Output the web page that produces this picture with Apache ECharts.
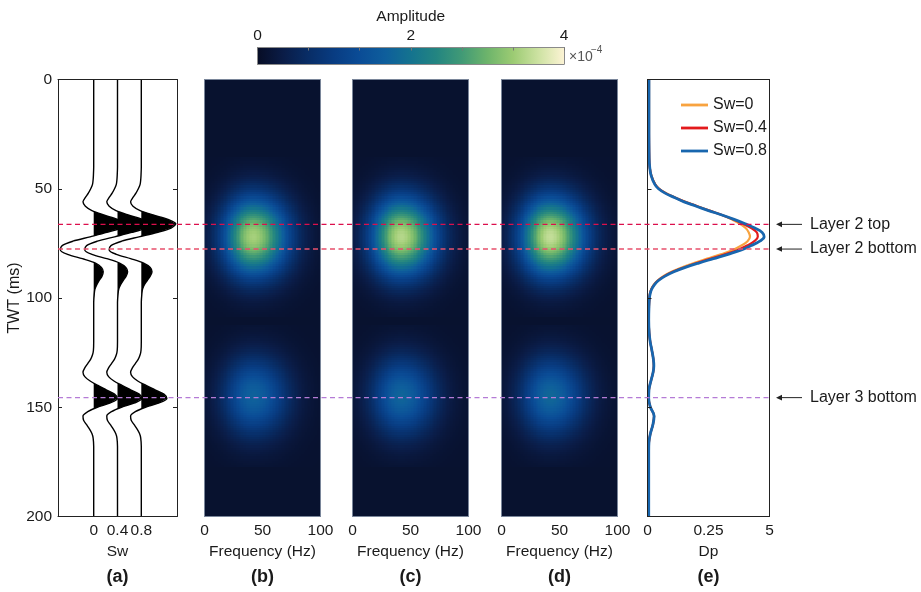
<!DOCTYPE html>
<html><head><meta charset="utf-8">
<script src="https://cdn.jsdelivr.net/npm/echarts@6/dist/echarts.min.js"></script>
<style>html,body{margin:0;padding:0;background:#fff}#c{width:921px;height:592px}</style>
</head><body><div id="c"></div>
<script>
const FONT = "'Liberation Sans', Arial, Helvetica, sans-serif";

// ---------- DATA ----------
// (a) synthetic seismic traces
const swValues = [0, 0.4, 0.8];
const swTickLabels = ['0', '0.4', '0.8'];
const wTimes = [0,40,44,46,48,50,52,54,56,58,60,62,64,66,68,70,72,74,76,78,80,82,84,86,88,90,92,94,96,98,102,110,120,124,126,128,130,132,134,136,138,140,142,144,146,148,150,152,154,156,158,160,162,164,168,176,200];
const traceSw0 = [0,0,-0.005,-0.01,-0.02,
 -0.05,-0.09,-0.14,-0.18,-0.14,-0.03,0.17,0.4,0.52,0.45,0.22,-0.06,-0.35,-0.53,-0.56,-0.44,-0.19,0.03,0.13,0.16,0.14,0.09,0.05,0.02,0.01,
 0,0,0,-0.005,
 -0.02,-0.05,-0.1,-0.15,-0.18,-0.15,-0.06,0.07,0.21,0.35,0.4,0.28,0.06,-0.1,-0.18,-0.17,-0.12,-0.07,-0.03,-0.01,
 0,0,0];
const traceSw04 = [0,0,-0.005,-0.01,-0.02,
 -0.05,-0.09,-0.14,-0.18,-0.14,-0.025,0.18,0.42,0.55,0.47,0.24,-0.05,-0.34,-0.52,-0.55,-0.43,-0.18,0.035,0.14,0.17,0.145,0.095,0.05,0.02,0.01,
 0,0,0,-0.005,
 -0.02,-0.05,-0.1,-0.15,-0.18,-0.15,-0.06,0.075,0.22,0.365,0.41,0.29,0.065,-0.1,-0.18,-0.17,-0.12,-0.07,-0.03,-0.01,
 0,0,0];
const traceSw08 = [0,0,-0.005,-0.01,-0.02,
 -0.05,-0.09,-0.14,-0.18,-0.14,-0.02,0.2,0.45,0.58,0.5,0.26,-0.04,-0.33,-0.51,-0.54,-0.42,-0.18,0.04,0.15,0.18,0.15,0.1,0.05,0.02,0.01,
 0,0,0,-0.005,
 -0.02,-0.05,-0.1,-0.15,-0.18,-0.15,-0.06,0.08,0.23,0.38,0.43,0.3,0.07,-0.1,-0.18,-0.17,-0.12,-0.07,-0.03,-0.01,
 0,0,0];
const wiggleTraces = [traceSw0, traceSw04, traceSw08];

// (b)-(d) time-frequency amplitude (x1e-4)
const hmFreqs = [
 0,1.25,2.5,3.75,5,6.25,7.5,8.75,
 10,11.25,12.5,13.75,15,16.25,17.5,18.75,
 20,21.25,22.5,23.75,25,26.25,27.5,28.75,
 30,31.25,32.5,33.75,35,36.25,37.5,38.75,
 40,41.25,42.5,43.75,45,46.25,47.5,48.75,
 50,51.25,52.5,53.75,55,56.25,57.5,58.75,
 60,61.25,62.5,63.75,65,66.25,67.5,68.75,
 70,71.25,72.5,73.75,75,76.25,77.5,78.75,
 80,81.25,82.5,83.75,85,86.25,87.5,88.75,
 90,91.25,92.5,93.75,95,96.25,97.5,98.75,
 100];
const hmFreqProfile = [
 0.0657,0.0771,0.09,0.1046,0.1209,0.1391,0.1593,0.1816,
 0.2059,0.2324,0.2611,0.2918,0.3247,0.3594,0.396,0.4342,
 0.4738,0.5146,0.5561,0.5981,0.6402,0.682,0.7229,0.7627,
 0.8007,0.8367,0.87,0.9003,0.9272,0.9503,0.9692,0.9838,
 0.9938,0.9991,0.9997,0.9965,0.9899,0.9797,0.9663,0.9496,
 0.93,0.9076,0.8825,0.8551,0.8256,0.7944,0.7616,0.7275,
 0.6926,0.657,0.621,0.5849,0.549,0.5134,0.4784,0.4443,
 0.4111,0.3791,0.3483,0.3189,0.2909,0.2645,0.2396,0.2163,
 0.1945,0.1743,0.1557,0.1386,0.1229,0.1086,0.0956,0.0839,
 0.0734,0.0639,0.0555,0.048,0.0414,0.0356,0.0304,0.026,
 0.0221];
const hmTopStart = 36;   // ms, 1 ms samples
const hmTopProfile = [
 0.0159,0.0199,0.0249,0.0307,0.0378,0.0463,0.0561,0.0677,0.0813,0.097,
 0.1151,0.1353,0.1585,0.1844,0.2129,0.244,0.278,0.315,0.3546,0.3966,
 0.4411,0.4868,0.5344,0.5824,0.6307,0.6788,0.7261,0.7717,0.815,0.8551,
 0.8913,0.9231,0.9501,0.9716,0.9873,0.9968,1.0,
 0.9968,0.9873,0.9716,0.9501,0.9231,0.8913,0.8551,0.815,0.7717,0.7261,
 0.6788,0.6307,0.5824,0.5344,0.4868,0.4411,0.3966,0.3546,0.315,0.278,
 0.244,0.2129,0.1844,0.1585,0.1353,0.1151,0.097,0.0813,0.0677,0.0561,
 0.0463,0.0378,0.0307,0.0249,0.0199,0.0159];
const hmBotStart = 113;  // ms, 1 ms samples
const hmBotProfile = [
 0.0378,0.0463,0.0561,0.0677,0.0813,0.097,
 0.1151,0.1353,0.1585,0.1844,0.2129,0.244,0.278,0.315,0.3546,0.3966,
 0.4411,0.4868,0.5344,0.5824,0.6307,0.6788,0.7261,0.7717,0.815,0.8551,
 0.8913,0.9231,0.9501,0.9716,0.9873,0.9968,1.0,
 0.9968,0.9873,0.9716,0.9501,0.9231,0.8913,0.8551,0.815,0.7717,0.7261,
 0.6788,0.6307,0.5824,0.5344,0.4868,0.4411,0.3966,0.3546,0.315,0.278,
 0.244,0.2129,0.1844,0.1585,0.1353,0.1151,0.097,0.0813,0.0677,0.0561,
 0.0463,0.0378];
const hmTopPeak = [3.3, 3.4, 3.5];   // panels b, c, d
const hmBotPeak = [1.62, 1.66, 1.7];
const hmBackground = 0.1;
const hmTimeStep = 1;
const hmFreqStep = 1.25;

// (e) Dp curves
const dpNames = ['Sw=0', 'Sw=0.4', 'Sw=0.8'];
const dpTickLabels = ['0', '0.25', '5'];
const eTimes = [0,20,36,40,44,48,50,52,54,56,58,60,62,64,66,68,70,72,74,76,78,80,82,84,86,88,90,92,94,96,98,100,104,110,116,120,124,128,131,134,138,142,146,150,154,158,162,166,170,180,200];
const dpTail = [0.06,0.05,0.07,0.11,0.18,0.24,0.26,0.23,0.14,0.06,0.05,0.12,0.27,0.22,0.12,0.06,0.05,0.05,0.05];
const dpSw0 = [0.06,0.06,0.07,0.09,0.16,0.32,
 0.48,0.76,1.14,1.56,2.06,2.55,3.05,3.45,3.78,4.02,4.15,4.2,4.1,3.85,3.5,3.0,2.45,1.9,1.4,0.98,0.65,0.41,0.25,0.15,0.1,0.08].concat(dpTail);
const dpSw04 = [0.06,0.06,0.07,0.09,0.155,0.31,
 0.47,0.74,1.12,1.53,2.03,2.53,3.05,3.5,3.9,4.25,4.48,4.52,4.38,4.08,3.7,3.17,2.6,2.02,1.5,1.04,0.69,0.43,0.27,0.16,0.1,0.08].concat(dpTail);
const dpSw08 = [0.06,0.06,0.07,0.09,0.15,0.3,
 0.45,0.72,1.1,1.5,2.0,2.5,3.05,3.55,4.0,4.4,4.7,4.78,4.6,4.25,3.85,3.3,2.7,2.1,1.55,1.08,0.72,0.45,0.28,0.17,0.11,0.08].concat(dpTail);
const dpSeries = [dpSw0, dpSw04, dpSw08];
const dpColors = ['#f8a33f', '#e31a1c', '#1866ae'];
const dpWidths = [2.2, 2.2, 2.8];

// layer markers
const layerTimes = [66.3, 77.6, 145.6];
const layerNames = ['Layer 2 top', 'Layer 2 bottom', 'Layer 3 bottom'];
const layerColors = ['#dc0f4c', '#e8506c', '#b57bd6'];

// colour map (value 0 .. 4, x1e-4)
const cmapColors = ['#070d25','#0a1c47','#082d66','#083c82','#0a4c96','#0e5e9c','#14738f','#238581','#419a76','#6db46b','#9ccb73','#cde2a2','#fcf3d4'];
const cbTicks = [0, 2, 4];

// ---------- LAYOUT ----------
const GT = 79.5, GH = 437;
const panels = [
  {left: 58, width: 119},
  {left: 204.5, width: 116},
  {left: 352.5, width: 116},
  {left: 501.5, width: 116},
  {left: 647.5, width: 122}
];
const overlayRight = 769.5;
const cbBox = {left: 257.5, top: 47.5, width: 306.5, height: 16.5};
const panelLetters = ['(a)', '(b)', '(c)', '(d)', '(e)'];

const labelStyle = {fontFamily: FONT, fontSize: 15.5, color: '#1a1a1a'};
const BLACK = '#222';
const HMB = '#7a869a';

function lineAx(color) { return {show: true, onZero: false, lineStyle: {color: color, width: 1}}; }

// ---------- BUILD ----------
function profileAt(start, prof, t) {
  const i = Math.round((t - start) / hmTimeStep);
  return (i >= 0 && i < prof.length) ? prof[i] : 0;
}
const hmTimeRows = [];
for (let t = 0; t <= 200; t += hmTimeStep) hmTimeRows.push(t);
function buildHeat(k) {
  const out = [];
  hmTimeRows.forEach(t => {
    const pt = profileAt(hmTopStart, hmTopProfile, t);
    const pb = profileAt(hmBotStart, hmBotProfile, t);
    hmFreqs.forEach((f, fi) => {
      const v = hmBackground + hmFreqProfile[fi] * (hmTopPeak[k] * pt + hmBotPeak[k] * pb);
      out.push([f, t, v]);
    });
  });
  return out;
}

function heatRender(params, api) {
  const f = api.value(0), t = api.value(1);
  const p0 = api.coord([f - hmFreqStep / 2, t - hmTimeStep / 2]);
  const p1 = api.coord([f + hmFreqStep / 2, t + hmTimeStep / 2]);
  const cs = params.coordSys;
  const x0 = Math.round(Math.max(Math.min(p0[0], p1[0]), cs.x));
  const x1 = Math.round(Math.min(Math.max(p0[0], p1[0]), cs.x + cs.width));
  const y0 = Math.round(Math.max(Math.min(p0[1], p1[1]), cs.y));
  const y1 = Math.round(Math.min(Math.max(p0[1], p1[1]), cs.y + cs.height));
  if (x1 <= x0 || y1 <= y0) return null;
  return {type: 'rect', shape: {x: x0, y: y0, width: x1 - x0, height: y1 - y0}, style: {fill: api.visual('color')}, silent: true};
}

function fillRender(params, api) {
  const k = params.dataIndex;
  const off = swValues[k], amps = wiggleTraces[k];
  const polys = [];
  let cur = null;
  for (let i = 0; i < wTimes.length; i++) {
    const a = amps[i], t = wTimes[i];
    if (a > 0) {
      if (!cur) {
        let tc = t;
        if (i > 0) { const a0 = amps[i - 1], t0 = wTimes[i - 1]; tc = t0 + (t - t0) * (0 - a0) / (a - a0); }
        cur = [api.coord([off, tc])];
      }
      cur.push(api.coord([off + a, t]));
    } else if (cur) {
      const a0 = amps[i - 1], t0 = wTimes[i - 1];
      const tc = t0 + (t - t0) * a0 / (a0 - a);
      cur.push(api.coord([off, tc]));
      polys.push(cur); cur = null;
    }
  }
  return {type: 'group', children: polys.map(p => ({type: 'polygon', shape: {points: p}, style: {fill: '#000'}, silent: true}))};
}

function layerRender(params, api) {
  const t = api.value(1), i = api.value(2);
  const p0 = api.coord([0, t]), p1 = api.coord([1, t]);
  return {type: 'line', shape: {x1: p0[0], y1: p0[1], x2: p1[0], y2: p1[1]},
    style: {stroke: layerColors[i], lineWidth: 1.4, lineDash: [5, 3.5]}, silent: true};
}

function cbRender(params, api) {
  const p0 = api.coord([cbTicks[0], 1]);
  const p1 = api.coord([cbTicks[cbTicks.length - 1], 0]);
  const n = cmapColors.length;
  return {type: 'rect', shape: {x: p0[0], y: p0[1], width: p1[0] - p0[0], height: p1[1] - p0[1]},
    style: {fill: new echarts.graphic.LinearGradient(0, 0, 1, 0, cmapColors.map((c, i) => ({offset: i / (n - 1), color: c})))}, silent: true};
}

// grids
const grid = panels.map(p => ({left: p.left, top: GT, width: p.width, height: GH}));
grid.push({left: panels[0].left, top: GT, width: overlayRight - panels[0].left, height: GH});
grid.push(cbBox);

const yBase = {type: 'value', min: 0, max: 200, interval: 50, inverse: true, splitLine: {show: false}};
const xAxis = [];
const yAxis = [];
// panel a
xAxis.push({gridIndex: 0, type: 'value', min: -0.6, max: 1.4, interval: 0.2, position: 'bottom', z: 5,
  axisLine: lineAx(BLACK), axisTick: {show: false}, splitLine: {show: false},
  axisLabel: Object.assign({}, labelStyle, {margin: 6, hideOverlap: false, showMinLabel: true, showMaxLabel: true,
    formatter: v => { const i = swValues.findIndex(s => Math.abs(s - v) < 1e-6); return i >= 0 ? swTickLabels[i] : ''; }}),
  name: 'Sw', nameLocation: 'middle', nameGap: 27, nameTextStyle: labelStyle});
xAxis.push({gridIndex: 0, type: 'value', min: -0.6, max: 1.4, position: 'top', z: 5, axisLine: lineAx(BLACK), axisTick: {show: false}, axisLabel: {show: false}, splitLine: {show: false}});
yAxis.push(Object.assign({}, yBase, {gridIndex: 0, position: 'left', z: 5, axisLine: lineAx(BLACK),
  axisTick: {show: true, inside: true, length: 4, lineStyle: {color: BLACK}},
  axisLabel: Object.assign({}, labelStyle, {margin: 6}),
  name: 'TWT (ms)', nameLocation: 'middle', nameGap: 28, nameTextStyle: Object.assign({}, labelStyle, {fontSize: 16})}));
yAxis.push(Object.assign({}, yBase, {gridIndex: 0, position: 'right', z: 5, axisLine: lineAx(BLACK),
  axisTick: {show: true, inside: true, length: 4, lineStyle: {color: BLACK}}, axisLabel: {show: false}}));
// panels b-d
for (let g = 1; g <= 3; g++) {
  xAxis.push({gridIndex: g, type: 'value', min: 0, max: 100, interval: 50, position: 'bottom', z: 5,
    axisLine: lineAx(HMB), axisTick: {show: false}, splitLine: {show: false},
    axisLabel: Object.assign({}, labelStyle, {margin: 6}),
    name: 'Frequency (Hz)', nameLocation: 'middle', nameGap: 27, nameTextStyle: labelStyle});
  xAxis.push({gridIndex: g, type: 'value', min: 0, max: 100, position: 'top', z: 5, axisLine: lineAx(HMB), axisTick: {show: false}, axisLabel: {show: false}, splitLine: {show: false}});
  yAxis.push(Object.assign({}, yBase, {gridIndex: g, position: 'left', z: 5, axisLine: lineAx(HMB), axisTick: {show: false}, axisLabel: {show: false}}));
  yAxis.push(Object.assign({}, yBase, {gridIndex: g, position: 'right', z: 5, axisLine: lineAx(HMB), axisTick: {show: false}, axisLabel: {show: false}}));
}
// panel e
xAxis.push({gridIndex: 4, type: 'value', min: 0, max: 5, interval: 2.5, position: 'bottom', z: 5,
  axisLine: lineAx(BLACK), axisTick: {show: false}, splitLine: {show: false},
  axisLabel: Object.assign({}, labelStyle, {margin: 6, formatter: v => dpTickLabels[Math.round(v / 2.5)] || ''}),
  name: 'Dp', nameLocation: 'middle', nameGap: 27, nameTextStyle: labelStyle});
xAxis.push({gridIndex: 4, type: 'value', min: 0, max: 5, position: 'top', z: 5, axisLine: lineAx(BLACK), axisTick: {show: false}, axisLabel: {show: false}, splitLine: {show: false}});
yAxis.push(Object.assign({}, yBase, {gridIndex: 4, position: 'left', z: 5, axisLine: lineAx(BLACK),
  axisTick: {show: true, inside: true, length: 4, lineStyle: {color: BLACK}}, axisLabel: {show: false}}));
yAxis.push(Object.assign({}, yBase, {gridIndex: 4, position: 'right', z: 5, axisLine: lineAx(BLACK), axisTick: {show: false}, axisLabel: {show: false}}));
// overlay
xAxis.push({gridIndex: 5, type: 'value', min: 0, max: 1, show: false});
yAxis.push(Object.assign({}, yBase, {gridIndex: 5, show: false}));
// colorbar
xAxis.push({gridIndex: 6, type: 'value', min: 0, max: 4, interval: 2, position: 'top', z: 5,
  axisLine: lineAx('#8a8a8a'), splitLine: {show: false},
  axisTick: {show: true, inside: true, length: 3, lineStyle: {color: '#777'}},
  minorTick: {show: true, splitNumber: 3, length: 3, lineStyle: {color: '#777'}},
  axisLabel: Object.assign({}, labelStyle, {margin: 4}),
  name: 'Amplitude', nameLocation: 'middle', nameGap: 23, nameTextStyle: labelStyle});
xAxis.push({gridIndex: 6, type: 'value', min: 0, max: 4, position: 'bottom', z: 5, axisLine: lineAx('#8a8a8a'), axisTick: {show: false}, axisLabel: {show: false}, splitLine: {show: false}});
yAxis.push({gridIndex: 6, type: 'value', min: 0, max: 1, position: 'left', z: 5, axisLine: lineAx('#8a8a8a'), axisTick: {show: false}, axisLabel: {show: false}, splitLine: {show: false}});
yAxis.push({gridIndex: 6, type: 'value', min: 0, max: 1, position: 'right', z: 5, axisLine: lineAx('#8a8a8a'), axisTick: {show: false}, axisLabel: {show: false}, splitLine: {show: false}});

const series = [];
series.push({type: 'custom', name: 'fill', xAxisIndex: 0, yAxisIndex: 0, z: 2, clip: true,
  data: swValues.map(v => [v, 0]), renderItem: fillRender});
wiggleTraces.forEach((tr, k) => {
  series.push({type: 'line', name: 'trace' + k, xAxisIndex: 0, yAxisIndex: 0, z: 3, clip: true,
    symbol: 'none', smooth: 0.3, lineStyle: {color: '#000', width: 1.4},
    data: wTimes.map((t, i) => [swValues[k] + tr[i], t])});
});
for (let k = 0; k < 3; k++) {
  series.push({type: 'custom', name: 'heat' + k, xAxisIndex: 2 * (k + 1), yAxisIndex: 2 * (k + 1), z: 1,
    progressive: 0, progressiveThreshold: 1e9,
    data: buildHeat(k), renderItem: heatRender, encode: {x: 0, y: 1}});
}
dpSeries.forEach((d, k) => {
  series.push({type: 'line', name: dpNames[k], xAxisIndex: 8, yAxisIndex: 8, z: 3, clip: true,
    symbol: 'none', smooth: 0.4, color: dpColors[k], lineStyle: {color: dpColors[k], width: dpWidths[k]},
    data: eTimes.map((t, i) => [d[i], t])});
});
series.push({type: 'custom', name: 'layers', xAxisIndex: 10, yAxisIndex: 10, z: 10,
  data: layerTimes.map((t, i) => [0, t, i]), renderItem: layerRender});
series.push({type: 'custom', name: 'colorbar', xAxisIndex: 11, yAxisIndex: 11, z: 1,
  data: [[0, 0]], renderItem: cbRender});

const option = {
  animation: false,
  backgroundColor: '#ffffff',
  textStyle: {fontFamily: FONT},
  grid: grid,
  xAxis: xAxis,
  yAxis: yAxis,
  visualMap: {type: 'continuous', show: false, min: cbTicks[0], max: cbTicks[cbTicks.length - 1], dimension: 2,
    seriesIndex: [4, 5, 6], inRange: {color: cmapColors}},
  legend: {data: dpNames.map(n => ({name: n, icon: 'rect'})), left: 676, top: 92, orient: 'vertical', itemWidth: 27, itemHeight: 2.8, itemGap: 7,
    textStyle: {fontFamily: FONT, fontSize: 16, color: '#1a1a1a'}, selectedMode: false},
  series: series
};

const chart = echarts.init(document.getElementById('c'), null, {renderer: 'canvas'});
chart.setOption(option);

// annotations & panel letters
const gfx = [];
panels.forEach((p, i) => {
  gfx.push({type: 'text', id: 'letter' + i, x: p.left + p.width / 2, y: 577,
    style: {text: panelLetters[i], font: 'bold 18px ' + FONT, fill: '#1a1a1a', textAlign: 'center', textVerticalAlign: 'middle'}});
});
const eRight = panels[4].left + panels[4].width;
layerTimes.forEach((t, i) => {
  const y = chart.convertToPixel({yAxisIndex: 10}, t);
  const head = eRight + 6.5, tail = eRight + 32.5;
  gfx.push({type: 'line', id: 'arrLine' + i, shape: {x1: head + 4, y1: y, x2: tail, y2: y}, style: {stroke: BLACK, lineWidth: 1}});
  gfx.push({type: 'polygon', id: 'arrHead' + i, shape: {points: [[head, y], [head + 6, y - 2.8], [head + 6, y + 2.8]]}, style: {fill: BLACK}});
  gfx.push({type: 'text', id: 'arrText' + i, x: eRight + 40.5, y: y,
    style: {text: layerNames[i], font: '16px ' + FONT, fill: '#1a1a1a', textAlign: 'left', textVerticalAlign: 'middle'}});
});
const cbR = cbBox.left + cbBox.width;
const cbMid = cbBox.top + cbBox.height / 2;
gfx.push({type: 'text', id: 'exp1', x: cbR + 5, y: cbMid + 1,
  style: {text: '\u00d710', font: '14px ' + FONT, fill: '#555', textAlign: 'left', textVerticalAlign: 'middle'}});
gfx.push({type: 'text', id: 'exp2', x: cbR + 27, y: cbMid - 6,
  style: {text: '\u22124', font: '10px ' + FONT, fill: '#555', textAlign: 'left', textVerticalAlign: 'middle'}});
chart.setOption({graphic: gfx});
</script></body></html>
